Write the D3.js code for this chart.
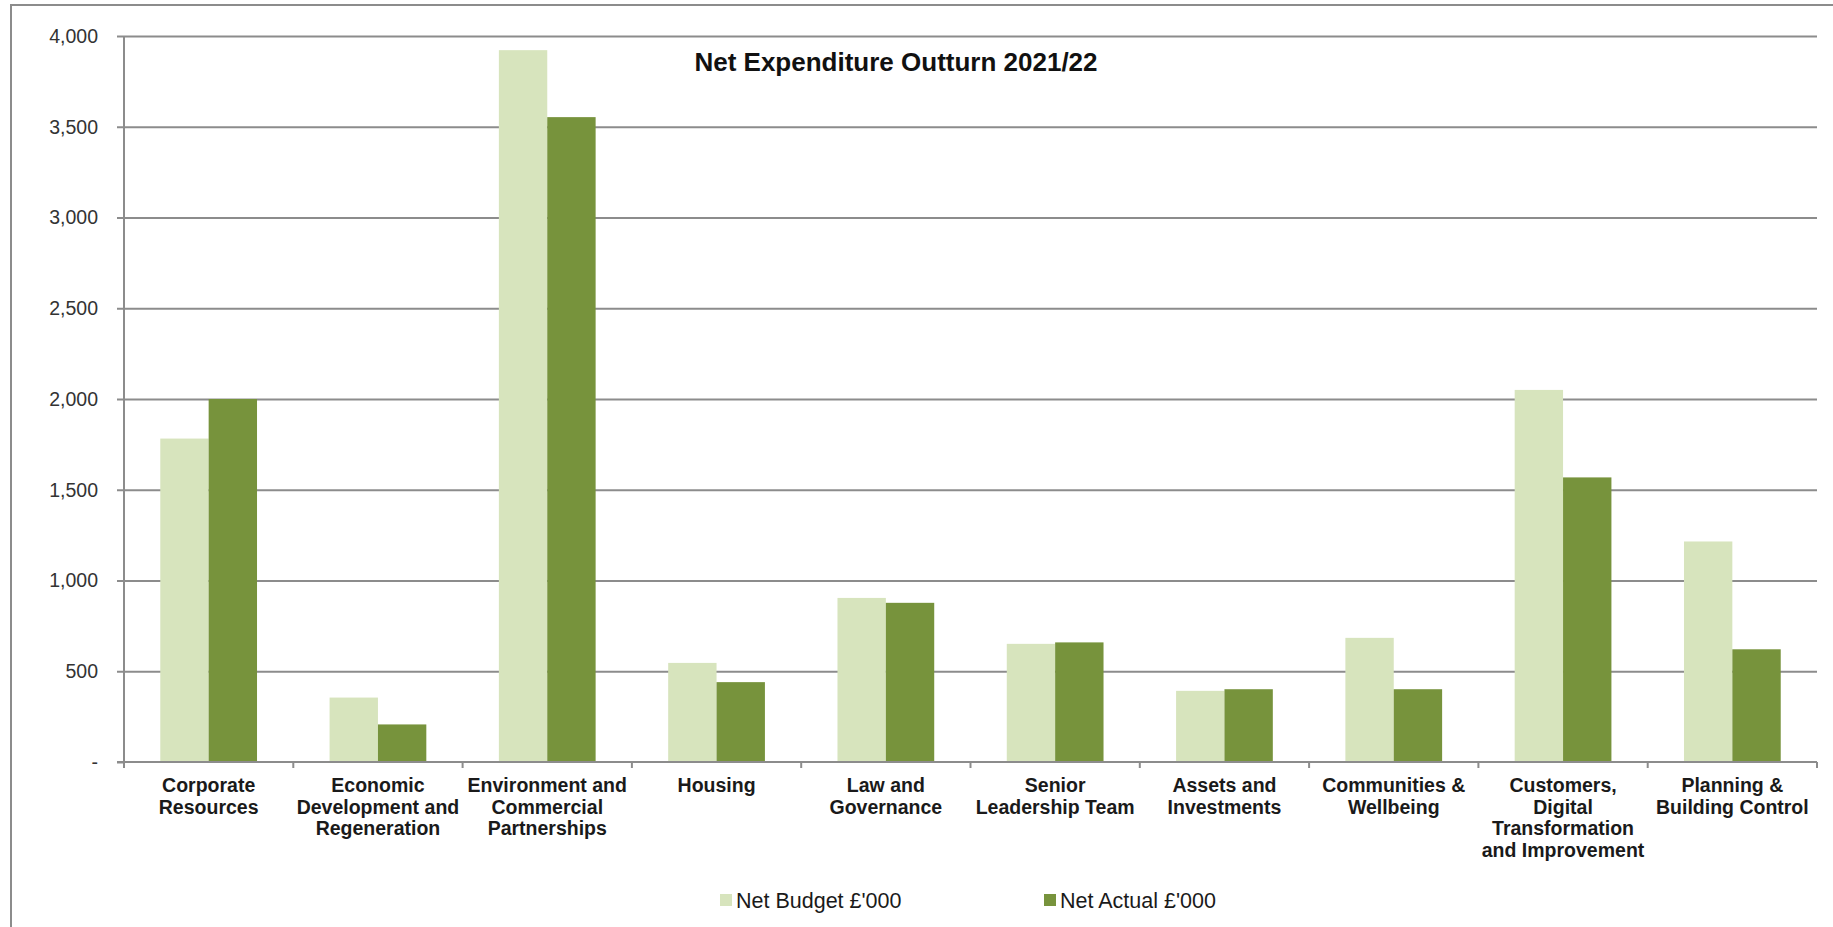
<!DOCTYPE html>
<html>
<head>
<meta charset="utf-8">
<script src="https://cdn.jsdelivr.net/npm/d3@7"></script>
<style>
  html, body { margin: 0; padding: 0; background: #fff; overflow: hidden; }
  svg { display: block; }
</style>
</head>
<body>
<div id="chart"></div>
<script>
// Datos
const categories = [
    "Corporate Resources", "Economic Development and Regeneration",
    "Environment and Commercial Partnerships", "Housing", "Law and Governance",
    "Senior Leadership Team", "Assets and Investments", "Communities & Wellbeing",
    "Customers, Digital Transformation and Improvement", "Planning & Building Control"
];
const categoryLines = [
    ["Corporate", "Resources"],
    ["Economic", "Development and", "Regeneration"],
    ["Environment and", "Commercial", "Partnerships"],
    ["Housing"],
    ["Law and", "Governance"],
    ["Senior", "Leadership Team"],
    ["Assets and", "Investments"],
    ["Communities &", "Wellbeing"],
    ["Customers,", "Digital", "Transformation", "and Improvement"],
    ["Planning &", "Building Control"]
];
const netBudget = [1782, 355, 3922, 546, 904, 651, 392, 684, 2050, 1215];
const netActual = [2000, 207, 3553, 440, 877, 659, 401, 401, 1568, 621];
const seriesNames = ["Net Budget £'000", "Net Actual £'000"];
const yTicks = [0, 500, 1000, 1500, 2000, 2500, 3000, 3500, 4000];
const title = "Net Expenditure Outturn 2021/22";

const colors = ["#d7e4bd", "#77933c"];

const width = 1833, height = 927;
const plot = { left: 124, right: 1817, top: 36, bottom: 762 };

const svg = d3.select("#chart").append("svg")
    .attr("width", width)
    .attr("height", height);

// Marco exterior
svg.append("rect")
    .attr("x", 11).attr("y", 5)
    .attr("width", width + 20).attr("height", height + 20)
    .attr("fill", "none")
    .attr("stroke", "#8c8c8c")
    .attr("stroke-width", 2);

const x = d3.scaleBand()
    .domain(categories)
    .range([plot.left, plot.right])
    .paddingInner(0).paddingOuter(0);

const y = d3.scaleLinear()
    .domain([0, 4000])
    .range([plot.bottom, plot.top]);

// Barras agrupadas (gap width ~150%)
const band = x.bandwidth();
const barW = band / 3.5;
const offset = band * 0.75 / 3.5;

// Líneas de la cuadrícula + eje Y
const yAxis = svg.append("g")
    .attr("transform", `translate(${plot.left},0)`)
    .call(d3.axisLeft(y)
        .tickValues(yTicks)
        .tickSize(7)
        .tickPadding(19)
        .tickFormat(d => d === 0 ? "-" : d3.format(",")(d)));
yAxis.select(".domain").remove();
yAxis.selectAll(".tick line")
    .attr("stroke", "#8c8c8c")
    .attr("stroke-width", 2)
    .attr("x1", d => d === 0 ? 0 : plot.right - plot.left)
    .attr("x2", -7);
yAxis.selectAll(".tick text")
    .style("font-family", "'Liberation Sans', Arial, sans-serif")
    .style("font-size", "19.5px")
    .attr("fill", "#333");

const series = [netBudget, netActual];
series.forEach((vals, s) => {
    svg.append("g")
        .selectAll("rect")
        .data(categories)
        .enter()
        .append("rect")
        .attr("x", d => x(d) + offset + s * barW)
        .attr("y", (d, i) => y(vals[i]))
        .attr("width", barW)
        .attr("height", (d, i) => y(0) - y(vals[i]))
        .attr("fill", colors[s]);
});

// Eje Y (línea vertical)
svg.append("line")
    .attr("x1", plot.left).attr("x2", plot.left)
    .attr("y1", plot.top).attr("y2", plot.bottom + 6)
    .attr("stroke", "#8c8c8c").attr("stroke-width", 2);

// Eje X
svg.append("line")
    .attr("x1", plot.left - 7).attr("x2", plot.right)
    .attr("y1", plot.bottom).attr("y2", plot.bottom)
    .attr("stroke", "#8c8c8c").attr("stroke-width", 2);

const boundaries = categories.map(c => x(c) + band);
svg.selectAll(".xtick")
    .data(boundaries)
    .enter()
    .append("line")
    .attr("x1", d => d).attr("x2", d => d)
    .attr("y1", plot.bottom).attr("y2", plot.bottom + 6)
    .attr("stroke", "#8c8c8c").attr("stroke-width", 2);

// Etiquetas de categorías
const labels = svg.selectAll(".cat-label")
    .data(categories)
    .enter()
    .append("text")
    .attr("text-anchor", "middle")
    .style("font-family", "'Liberation Sans', Arial, sans-serif")
    .style("font-size", "19.5px")
    .style("font-weight", "bold")
    .attr("fill", "#1a1a1a");

labels.each(function(d, i) {
    const t = d3.select(this);
    categoryLines[i].forEach((line, j) => {
        t.append("tspan")
            .attr("x", x(d) + band / 2)
            .attr("y", 792 + j * 21.7)
            .text(line);
    });
});

// Título
svg.append("text")
    .attr("x", 896)
    .attr("y", 71)
    .attr("text-anchor", "middle")
    .style("font-family", "'Liberation Sans', Arial, sans-serif")
    .style("font-size", "26px")
    .style("font-weight", "bold")
    .attr("fill", "#111")
    .text(title);

// Leyenda
const legendX = [720, 1044];
const legend = svg.selectAll(".legend")
    .data(seriesNames)
    .enter()
    .append("g")
    .attr("transform", (d, i) => `translate(${legendX[i]}, 894)`);
legend.append("rect")
    .attr("width", 12).attr("height", 12)
    .attr("fill", (d, i) => colors[i]);
legend.append("text")
    .attr("x", 16)
    .attr("y", 14)
    .style("font-family", "'Liberation Sans', Arial, sans-serif")
    .style("font-size", "21.5px")
    .attr("fill", "#1a1a1a")
    .text(d => d);
</script>
</body>
</html>
